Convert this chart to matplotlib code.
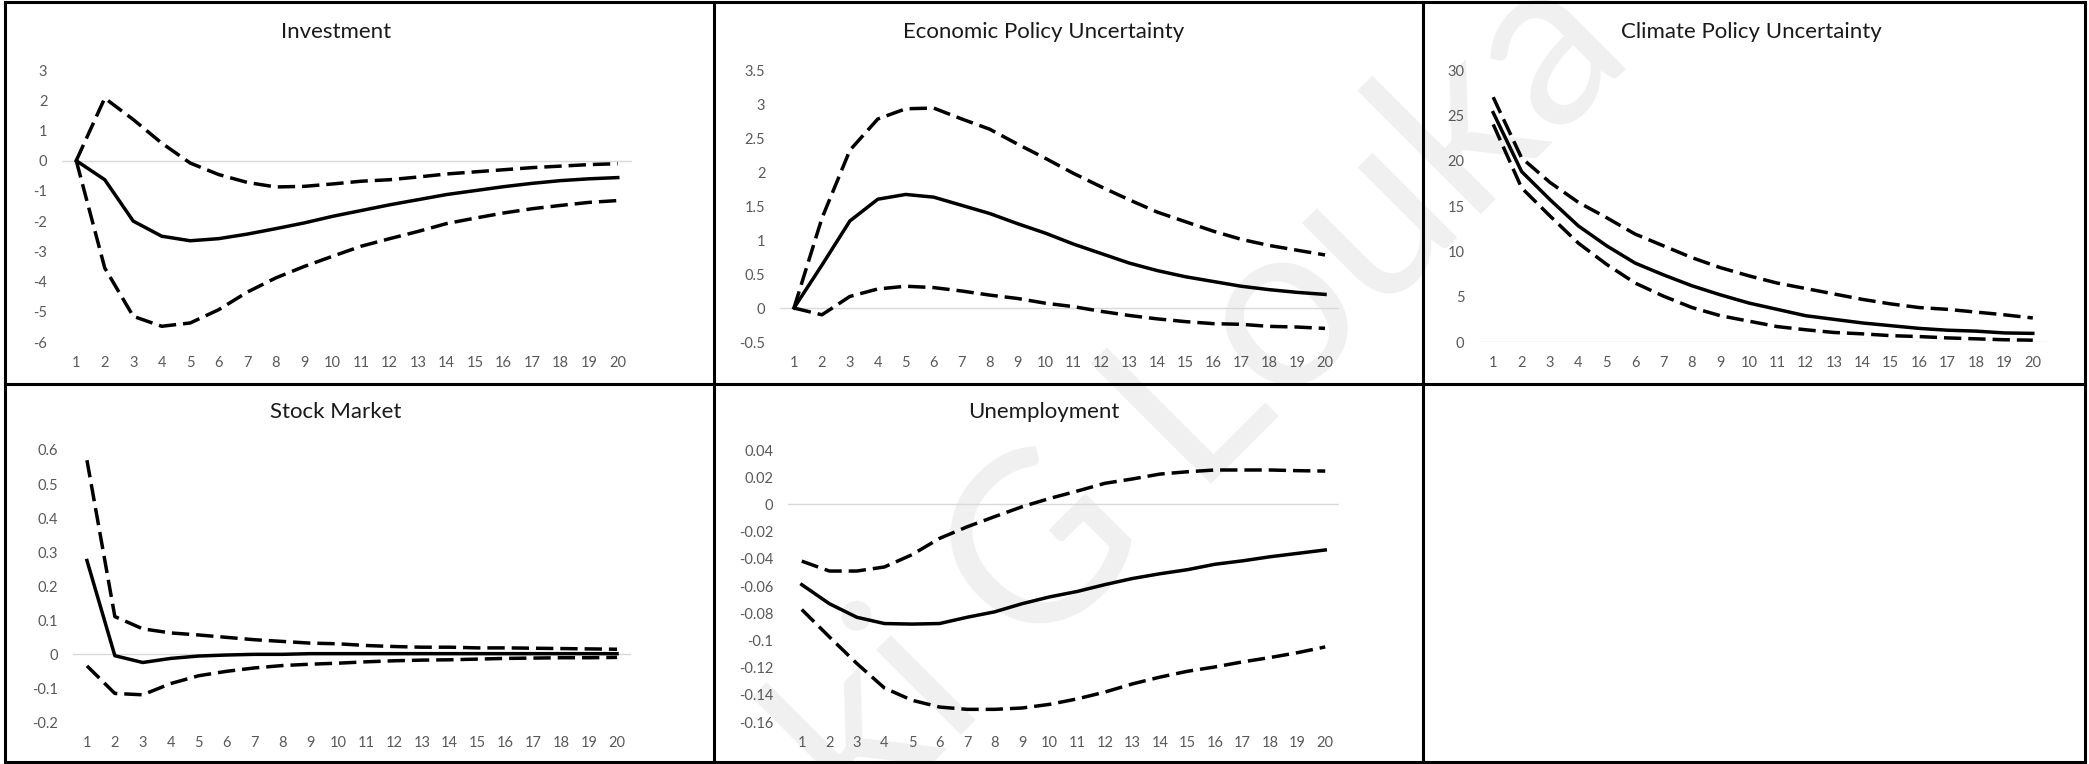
import numpy as np
import matplotlib
matplotlib.use('Agg')
import matplotlib.pyplot as plt
from matplotlib.lines import Line2D

plt.rcParams['font.family'] = ['Lato', 'DejaVu Sans']

periods = list(range(1, 21))

# impulse responses with lower / upper bands
inv_irf = [0, -0.63, -2.0, -2.5, -2.65, -2.58, -2.43, -2.25, -2.06, -1.84,
           -1.65, -1.46, -1.29, -1.12, -0.99, -0.86, -0.75, -0.66, -0.6, -0.56]
inv_upper = [0, 2.07, 1.36, 0.58, -0.08, -0.46, -0.72, -0.87, -0.85, -0.77,
             -0.68, -0.63, -0.54, -0.44, -0.37, -0.3, -0.23, -0.18, -0.13, -0.1]
inv_lower = [0, -3.55, -5.15, -5.48, -5.37, -4.93, -4.35, -3.88, -3.5, -3.16,
             -2.83, -2.58, -2.34, -2.08, -1.9, -1.73, -1.59, -1.48, -1.38, -1.32]

epu_irf = [0, 0.63, 1.28, 1.6, 1.67, 1.63, 1.51, 1.39, 1.24, 1.1,
           0.94, 0.8, 0.66, 0.55, 0.46, 0.39, 0.32, 0.27, 0.23, 0.2]
epu_upper = [0, 1.32, 2.32, 2.78, 2.93, 2.94, 2.78, 2.63, 2.41, 2.2,
             1.98, 1.78, 1.59, 1.41, 1.27, 1.13, 1.01, 0.92, 0.85, 0.78]
epu_lower = [0, -0.1, 0.17, 0.28, 0.32, 0.3, 0.25, 0.19, 0.14, 0.07,
             0.02, -0.05, -0.11, -0.16, -0.2, -0.23, -0.24, -0.27, -0.28, -0.3]

cpu_irf = [25.3, 18.8, 15.7, 12.8, 10.6, 8.7, 7.4, 6.2, 5.2, 4.3,
           3.6, 2.9, 2.5, 2.1, 1.8, 1.5, 1.3, 1.2, 1.0, 0.95]
cpu_upper = [27.0, 20.3, 17.6, 15.4, 13.7, 11.9, 10.6, 9.3, 8.2, 7.3,
             6.5, 5.9, 5.3, 4.7, 4.2, 3.8, 3.6, 3.3, 3.0, 2.65]
cpu_lower = [24.0, 17.0, 13.9, 10.9, 8.55, 6.5, 5.05, 3.8, 2.9, 2.3,
             1.7, 1.35, 1.05, 0.9, 0.7, 0.6, 0.45, 0.35, 0.25, 0.2]

stock_irf = [0.275, -0.005, -0.025, -0.013, -0.006, -0.003, -0.001, -0.001, 0.001, 0.001,
             0.001, 0.001, 0.001, 0.001, 0.001, 0.001, 0.001, 0.001, 0.001, 0.001]
stock_upper = [0.57, 0.11, 0.074, 0.062, 0.056, 0.049, 0.042, 0.037, 0.032, 0.03,
               0.025, 0.022, 0.02, 0.02, 0.018, 0.018, 0.017, 0.016, 0.015, 0.014]
stock_lower = [-0.035, -0.116, -0.12, -0.087, -0.064, -0.051, -0.041, -0.034, -0.03, -0.027,
               -0.023, -0.02, -0.018, -0.017, -0.015, -0.013, -0.012, -0.011, -0.011, -0.01]

unemp_irf = [-0.059, -0.073, -0.083, -0.0876, -0.088, -0.0876, -0.083, -0.079, -0.073, -0.068,
             -0.064, -0.059, -0.0545, -0.051, -0.048, -0.044, -0.0415, -0.0385, -0.036, -0.0335]
unemp_upper = [-0.0417, -0.049, -0.049, -0.046, -0.037, -0.025, -0.0165, -0.009, -0.0017, 0.0044,
               0.0098, 0.0155, 0.0187, 0.0223, 0.024, 0.0253, 0.0253, 0.0253, 0.0248, 0.0245]
unemp_lower = [-0.0773, -0.0974, -0.117, -0.135, -0.144, -0.149, -0.1507, -0.1507, -0.1497, -0.147,
               -0.143, -0.138, -0.132, -0.127, -0.1227, -0.1195, -0.1158, -0.1126, -0.109, -0.1048]

W, H = 2089, 764
fig = plt.figure(figsize=(W / 100, H / 100), dpi=100)


def px_axes(x0, x1, y0, y1):
    return fig.add_axes([x0 / W, 1 - y1 / H, (x1 - x0) / W, (y1 - y0) / H])


def fmt(v):
    v = round(v, 6)
    if abs(v) < 1e-9:
        v = 0.0
    return '%g' % v


# name, series, y range, y step, plot box (px), title centre (px)
panels = [
    ('Investment', inv_irf, inv_lower, inv_upper, (-6, 3), 1,
     (62, 632, 70, 342), (336, 32)),
    ('Economic Policy Uncertainty', epu_irf, epu_lower, epu_upper, (-0.5, 3.5), 0.5,
     (780, 1339, 70, 342), (1044, 32)),
    ('Climate Policy Uncertainty', cpu_irf, cpu_lower, cpu_upper, (0, 30), 5,
     (1479, 2047, 70, 342), (1751, 32)),
    ('Stock Market', stock_irf, stock_lower, stock_upper, (-0.2, 0.6), 0.1,
     (73, 631, 450, 722), (336, 412)),
    ('Unemployment', unemp_irf, unemp_lower, unemp_upper, (-0.16, 0.04), 0.02,
     (788, 1339, 450, 722), (1044, 412)),
]

for title, irf, lower, upper, (lo, hi), step, box, tpos in panels:
    ax = px_axes(*box)
    ax.set_facecolor('none')
    ax.axhline(0, color='#d9d9d9', lw=1.0, zorder=1)
    ax.plot(periods, irf, color='black', lw=2.5, solid_joinstyle='round', zorder=3)
    for band in (upper, lower):
        ax.plot(periods, band, color='black', lw=2.5, dashes=(5, 2),
                dash_capstyle='butt', zorder=3)
    ax.set_xlim(0.5, 20.5)
    ax.set_ylim(lo, hi)
    yt = np.arange(lo, hi + step / 2, step)
    ax.set_yticks(yt)
    ax.set_yticklabels([fmt(v) for v in yt])
    ax.set_xticks(periods)
    ax.tick_params(length=0, labelsize=10.5, labelcolor='#595959')
    ax.tick_params(axis='x', pad=10)
    ax.tick_params(axis='y', pad=10.5)
    for sp in ax.spines.values():
        sp.set_visible(False)
    fig.text(tpos[0] / W, 1 - tpos[1] / H, title, ha='center', va='center',
             fontsize=16, color='#1a1a1a')

# table grid around the charts
border = dict(color='black', lw=2.2, solid_capstyle='projecting')
for x in (5, 714, 1423, 2085):
    fig.add_artist(Line2D([x / W, x / W], [1 - 2 / H, 1 - 762 / H], **border))
for y in (2, 384, 762):
    fig.add_artist(Line2D([5 / W, 2085 / W], [1 - y / H, 1 - y / H], **border))

# faint diagonal name mark
mx, my = 1032 / W, 1 - 664 / H
fig.text(mx, my, 'G Louka', rotation=45, rotation_mode='anchor',
         ha='left', va='baseline', fontsize=170, color='#f0f0f0', zorder=-1)
fig.text(mx, my, 'ki ', rotation=45, rotation_mode='anchor',
         ha='right', va='baseline', fontsize=170, color='#f0f0f0', zorder=-1)

fig.savefig('out.png', dpi=100)
